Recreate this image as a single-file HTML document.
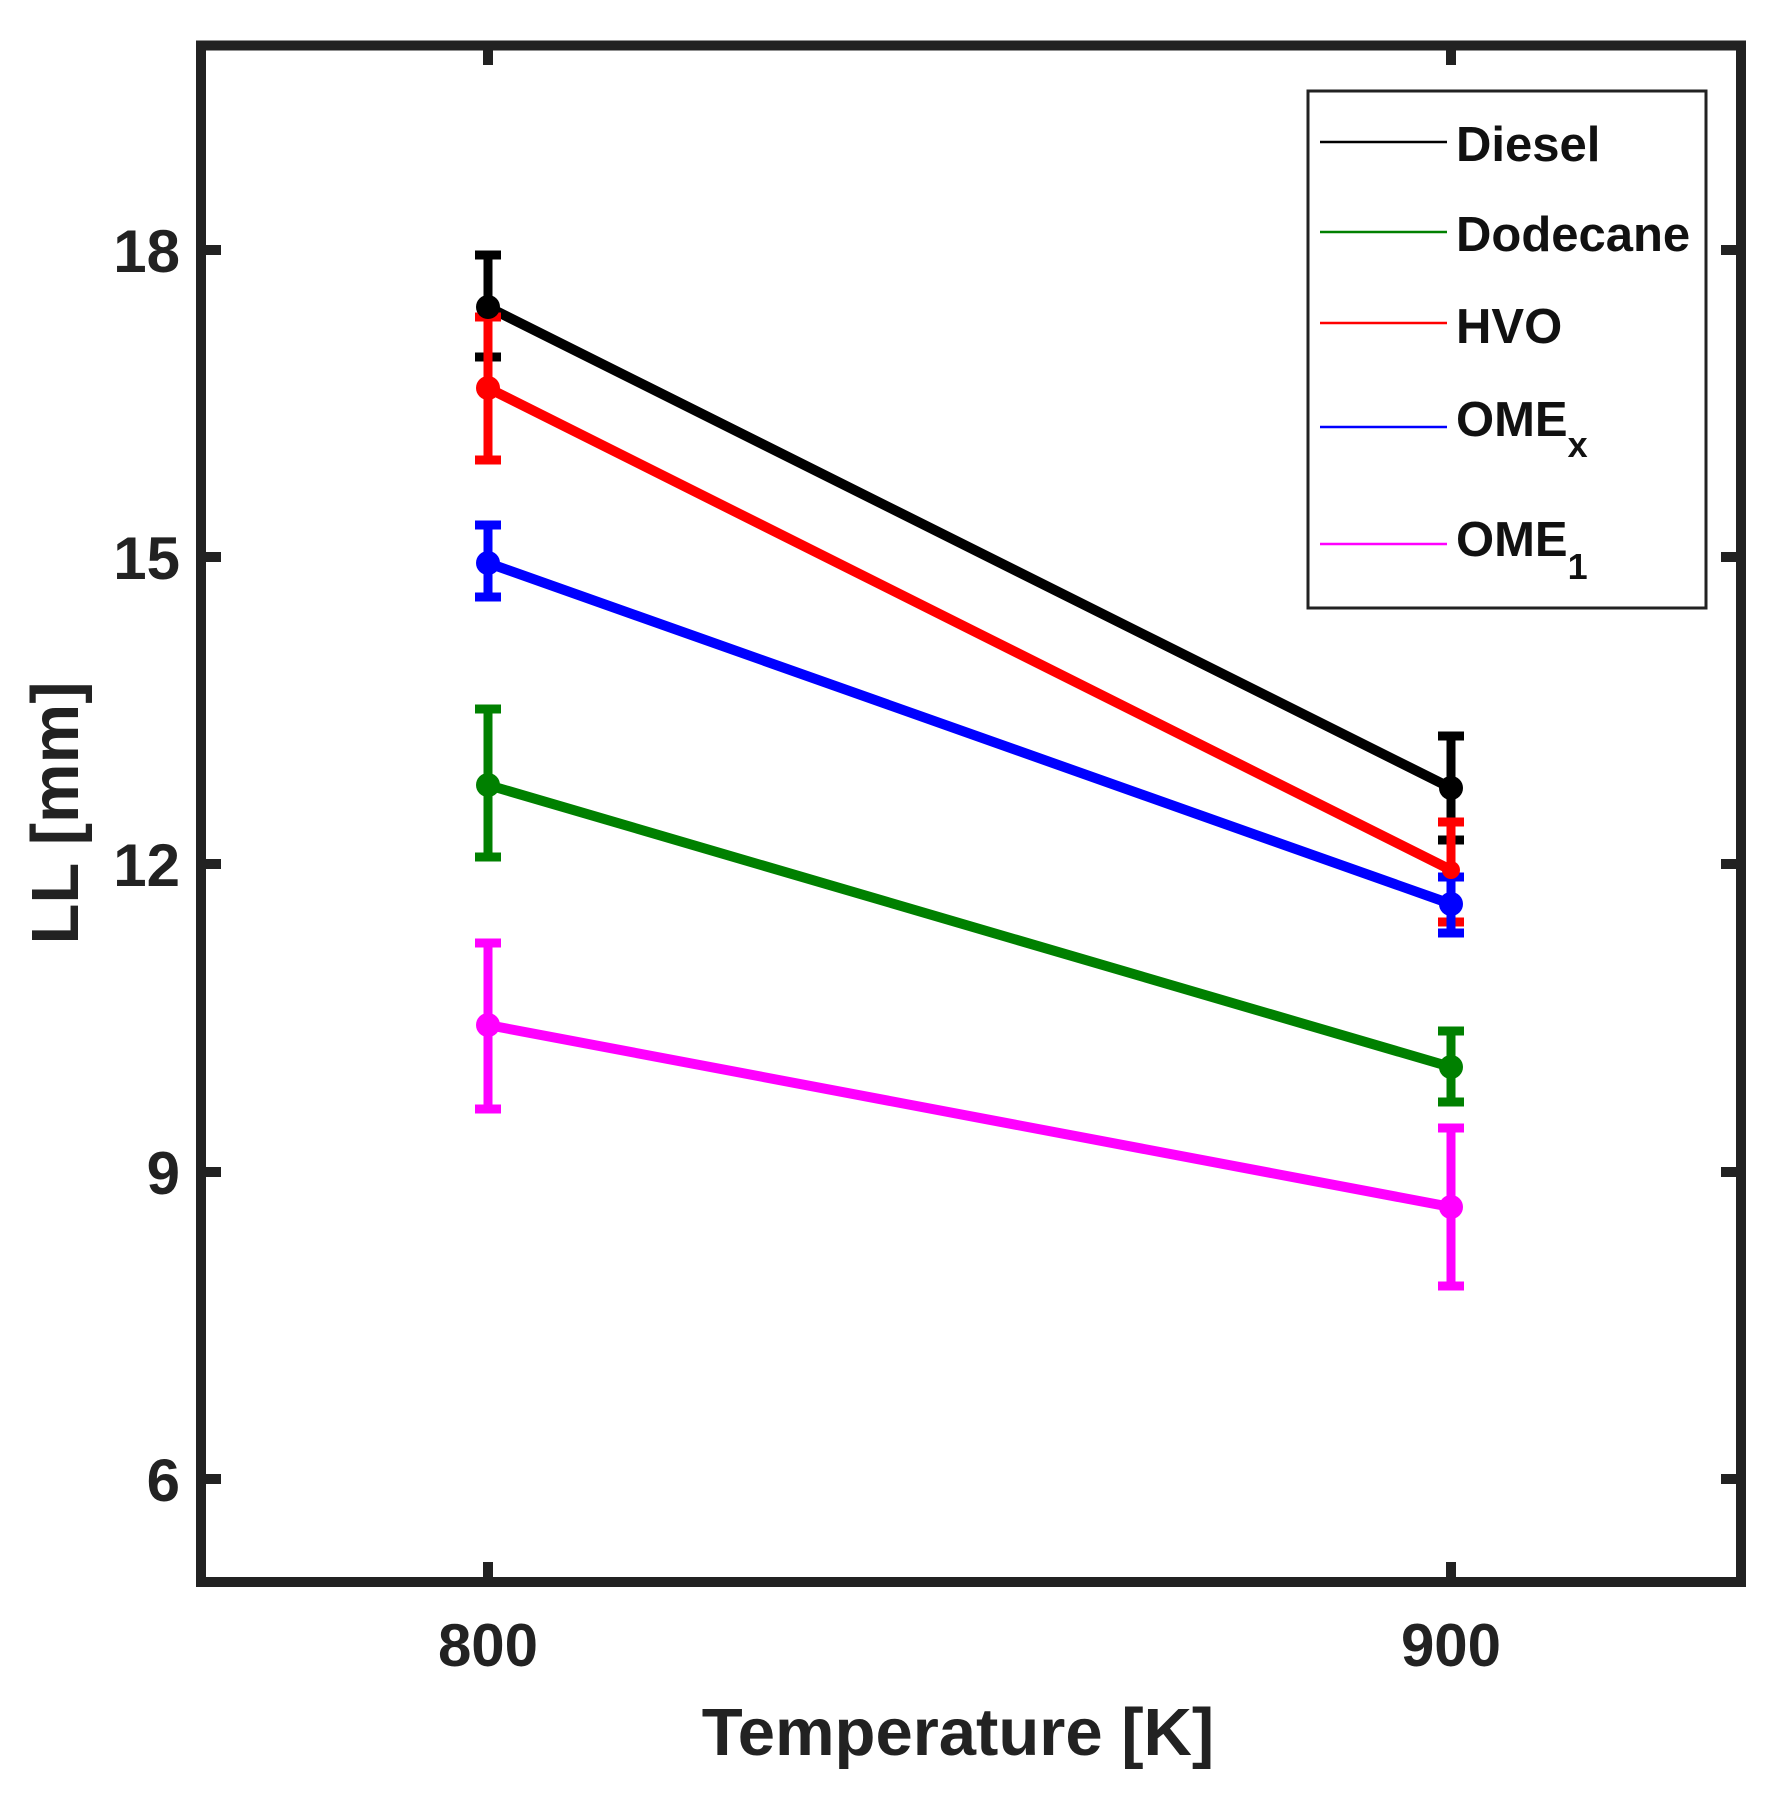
<!DOCTYPE html>
<html><head><meta charset="utf-8"><style>html,body{margin:0;padding:0;background:#fff}svg{display:block}</style></head>
<body>
<svg width="1782" height="1796" viewBox="0 0 1782 1796" xmlns="http://www.w3.org/2000/svg" font-family="Liberation Sans, Arial, sans-serif" font-weight="bold">
<rect width="1782" height="1796" fill="#fff"/>
<g stroke-width="10" fill="none" stroke-linecap="round">
<line x1="488" y1="307" x2="1451" y2="788" stroke="#000"/>
<line x1="488" y1="388" x2="1451" y2="870" stroke="#ff0000"/>
<line x1="488" y1="563" x2="1451" y2="904" stroke="#0000ff"/>
<line x1="488" y1="785" x2="1451" y2="1067" stroke="#008000"/>
<line x1="488" y1="1025" x2="1451" y2="1207" stroke="#ff00ff"/>
</g>
<g stroke-width="9" fill="none">
<g stroke="#000"><path d="M488 255V357M475 255H501M475 357H501M1451 736V840M1438 736H1464M1438 840H1464"/></g>
<g stroke="#ff0000"><path d="M488 317V460M475 317H501M475 460H501M1451 822V922M1438 822H1464M1438 922H1464"/></g>
<g stroke="#0000ff"><path d="M488 525V597M475 525H501M475 597H501M1451 877V933M1438 877H1464M1438 933H1464"/></g>
<g stroke="#008000"><path d="M488 709V857M475 709H501M475 857H501M1451 1031V1102M1438 1031H1464M1438 1102H1464"/></g>
<g stroke="#ff00ff"><path d="M488 943V1109M475 943H501M475 1109H501M1451 1128V1286M1438 1128H1464M1438 1286H1464"/></g>
</g>
<g>
<circle cx="488" cy="307" r="12" fill="#000"/><circle cx="1451" cy="788" r="12" fill="#000"/>
<circle cx="488" cy="388" r="12" fill="#ff0000"/><circle cx="1451" cy="870" r="9" fill="#ff0000"/>
<circle cx="488" cy="563" r="12" fill="#0000ff"/><circle cx="1451" cy="904" r="12" fill="#0000ff"/>
<circle cx="488" cy="785" r="12" fill="#008000"/><circle cx="1451" cy="1067" r="12" fill="#008000"/>
<circle cx="488" cy="1025" r="12" fill="#ff00ff"/><circle cx="1451" cy="1207" r="12" fill="#ff00ff"/>
</g>
<rect x="201" y="45.5" width="1540" height="1536.5" fill="none" stroke="#222" stroke-width="10"/>
<g stroke="#222" stroke-width="10">
<path d="M201 250H221M201 557H221M201 864H221M201 1172H221M201 1479H221"/>
<path d="M1741 250H1721M1741 557H1721M1741 864H1721M1741 1172H1721M1741 1479H1721"/>
<path d="M488 1582V1562M1451 1582V1562M488 45V65M1451 45V65"/>
</g>
<g font-size="60" fill="#222" text-anchor="end">
<text x="180" y="272">18</text>
<text x="180" y="579">15</text>
<text x="180" y="886">12</text>
<text x="180" y="1194">9</text>
<text x="180" y="1501">6</text>
</g>
<g font-size="60" fill="#222" text-anchor="middle">
<text x="488" y="1666">800</text>
<text x="1451" y="1666">900</text>
</g>
<text x="958" y="1755" font-size="67" fill="#222" text-anchor="middle">Temperature [K]</text>
<text transform="translate(78,813) rotate(-90)" font-size="67" fill="#222" text-anchor="middle">LL [mm]</text>
<rect x="1308" y="91" width="398" height="517" fill="#fff" stroke="#222" stroke-width="3"/>
<g stroke-width="2.5">
<line x1="1320" y1="142" x2="1447" y2="142" stroke="#000"/>
<line x1="1320" y1="232" x2="1447" y2="232" stroke="#008000"/>
<line x1="1320" y1="323" x2="1447" y2="323" stroke="#ff0000"/>
<line x1="1320" y1="427" x2="1447" y2="427" stroke="#0000ff"/>
<line x1="1320" y1="544" x2="1447" y2="544" stroke="#ff00ff"/>
</g>
<g font-size="49" fill="#111">
<text x="1456" y="161">Diesel</text>
<text x="1456" y="251">Dodecane</text>
<text x="1456" y="343">HVO</text>
<text x="1456" y="436">OME<tspan font-size="36" dy="21">x</tspan></text>
<text x="1456" y="556">OME<tspan font-size="36" dy="23">1</tspan></text>
</g>
</svg>
</body></html>
